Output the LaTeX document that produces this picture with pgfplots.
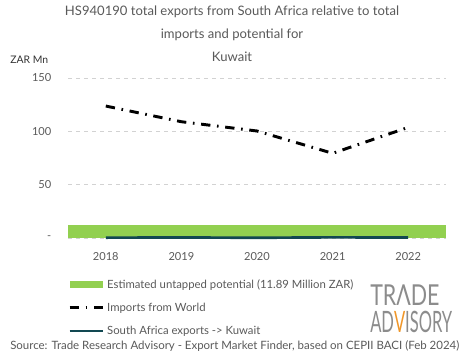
\documentclass[border=0pt]{standalone}
\usepackage{fontspec}
\setmainfont{Lato}
\usepackage{pgfplots}
\pgfplotsset{compat=1.18}
\definecolor{potgreen}{RGB}{146,208,80}
\definecolor{expteal}{RGB}{18,72,82}
\definecolor{txtgray}{RGB}{89,89,89}
\definecolor{gridgray}{RGB}{210,210,210}
\definecolor{logogray}{RGB}{140,140,140}
\definecolor{logoorange}{RGB}{240,150,40}
\begin{document}
\begin{tikzpicture}[x=1pt,y=1pt]
\useasboundingbox (0,0) rectangle (348.75,269.25);
\begin{axis}[
  at={(51pt,90.75pt)}, anchor=south west,
  scale only axis, width=283.5pt, height=120pt,
  xmin=-0.5, xmax=4.5, ymin=0, ymax=150,
  axis line style={draw=none},
  xtick={0,1,2,3,4}, xticklabels={2018,2019,2020,2021,2022},
  ytick={0,50,100,150}, yticklabels={-,50,100,150},
  ymajorgrids, grid style={gridgray, dashed, line width=0.5pt},
  tick style={draw=none},
  ticklabel style={font=\fontsize{8.3}{9}\selectfont, text=txtgray},
  xticklabel style={yshift=-7pt},
  yticklabel style={xshift=-9pt},
  clip=false,
  legend style={at={(0,-0.24)}, anchor=north west, draw=none, fill=none,
    font=\fontsize{8.5}{10}\selectfont, text=txtgray, row sep=5.5pt, inner sep=0pt,
    cells={anchor=west}},
  legend cell align=left,
]
\addplot[draw=none, fill=potgreen, forget plot] coordinates {(-0.5,11.89) (4.5,11.89)} \closedcycle;
\addlegendimage{area legend, fill=potgreen, draw=none,
  legend image code/.code={\fill[potgreen] (0pt,-2.5pt) rectangle (25pt,2.5pt);}}
\addlegendentry{Estimated untapped potential (11.89 Million ZAR)}
\addplot[black, line width=2.2pt, dash pattern=on 7pt off 5pt on 1.2pt off 5pt,
  legend image code/.code={\draw[black, line width=2.2pt, dash pattern=on 7pt off 5pt on 1.2pt off 5pt] (0pt,0pt) -- (25pt,0pt);}]
  coordinates {(0,123.7) (1,109) (2,100.3) (3,79.4) (4,103.7)};
\addlegendentry{Imports from World}
\addplot[expteal, line width=2pt,
  legend image code/.code={\draw[expteal, line width=2pt] (0pt,0pt) -- (25pt,0pt);}]
  coordinates {(0,0.3) (1,0.5) (2,0.2) (3,0.6) (4,0.4)};
\addlegendentry{South Africa exports -> Kuwait}
\end{axis}
\begin{scope}[font=\fontsize{9.8}{10}\selectfont, text=txtgray]
\node at (174,260.25) {HS940190 total exports from South Africa relative to total};
\node at (174,243) {imports and potential for};
\node at (174,226.5) {Kuwait};
\end{scope}
\node[font=\fontsize{7.8}{9}\selectfont, text=black!80, anchor=west, inner sep=0pt] at (7.5,224.25) {ZAR Mn};
\node[font=\fontsize{8.6}{9}\selectfont, text=txtgray, anchor=west, inner sep=0pt] at (7.5,9.75) {Source: Trade Research Advisory - Export Market Finder, based on CEPII BACI (Feb 2024)};
\node[text=logogray, anchor=south west, inner sep=0pt] at (277.5,40) {\resizebox{52pt}{15.5pt}{TRΛDE}};
\node[text=logogray, anchor=south west, inner sep=0pt] at (277.5,19.5) {\resizebox{61.5pt}{16pt}{AD\textcolor{logoorange}{V}ISORY}};
\end{tikzpicture}
\end{document}
